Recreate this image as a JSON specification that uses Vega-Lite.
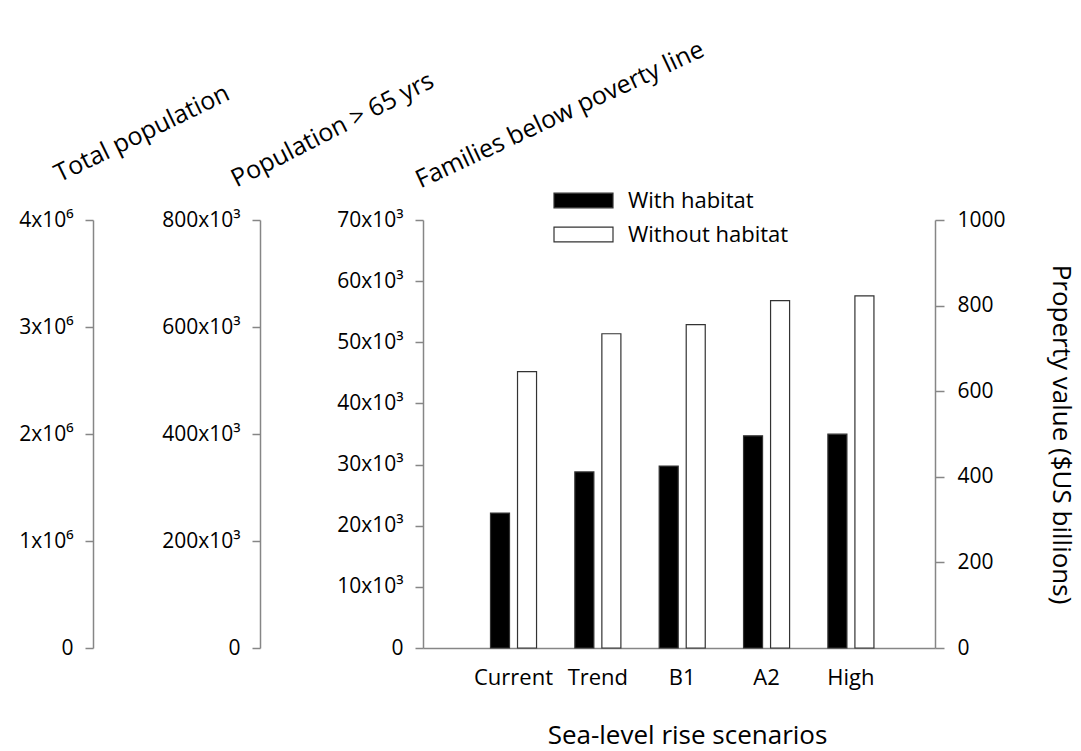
{
  "$schema": "https://vega.github.io/schema/vega-lite/v6.json",
  "autosize": {"type": "none"},
  "width": 512,
  "height": 428,
  "padding": {"left": 423, "top": 220, "right": 146, "bottom": 103},
  "background": "white",
  "config": {
    "view": {"stroke": null},
    "font": "Open Sans",
    "axis": {
      "grid": false,
      "domainColor": "#868686",
      "tickColor": "#868686",
      "domainWidth": 1.5,
      "tickWidth": 1.5,
      "labelColor": "#000000",
      "titleColor": "#000000",
      "labelFont": "Open Sans",
      "titleFont": "Open Sans",
      "labelFontSize": 21,
      "titleFontSize": 25,
      "titleFontWeight": "normal"
    }
  },
  "data": {
    "values": [
      {"scenario": "Current", "habitat": "With habitat", "value": 22060},
      {"scenario": "Current", "habitat": "Without habitat", "value": 45200},
      {"scenario": "Trend", "habitat": "With habitat", "value": 28800},
      {"scenario": "Trend", "habitat": "Without habitat", "value": 51400},
      {"scenario": "B1", "habitat": "With habitat", "value": 29750},
      {"scenario": "B1", "habitat": "Without habitat", "value": 52900},
      {"scenario": "A2", "habitat": "With habitat", "value": 34700},
      {"scenario": "A2", "habitat": "Without habitat", "value": 56800},
      {"scenario": "High", "habitat": "With habitat", "value": 34970},
      {"scenario": "High", "habitat": "Without habitat", "value": 57600}
    ]
  },
  "layer": [
    {
      "mark": {"type": "bar", "stroke": "#333333", "strokeWidth": 1.2},
      "encoding": {
        "x": {
          "field": "scenario",
          "type": "nominal",
          "sort": ["Current", "Trend", "B1", "A2", "High"],
          "scale": {"paddingInner": 0.454, "paddingOuter": 0.762, "align": 0.525},
          "axis": {
            "title": "Sea-level rise scenarios",
            "labelAngle": 0,
            "ticks": false,
            "tickSize": 0,
            "labelPadding": 19,
            "labelFontSize": 22,
            "titleFontSize": 26,
            "titleX": 264,
            "titleY": 95,
            "titleAlign": "center",
            "titleBaseline": "alphabetic"
          }
        },
        "xOffset": {
          "field": "habitat",
          "type": "nominal",
          "scale": {"paddingInner": 0.296, "paddingOuter": 0}
        },
        "y": {
          "field": "value",
          "type": "quantitative",
          "scale": {"domain": [0, 70000], "nice": false},
          "axis": {
            "orient": "left",
            "values": [0, 10000, 20000, 30000, 40000, 50000, 60000, 70000],
            "labelExpr": "datum.value == 0 ? '0' : format(datum.value/1000, 'd') + 'x10³'",
            "tickSize": 8,
            "labelPadding": 12,
            "title": "Families below poverty line",
            "titleAngle": -25,
            "titleX": -3,
            "titleY": -32,
            "titleAlign": "left",
            "titleBaseline": "alphabetic"
          }
        },
        "fill": {
          "field": "habitat",
          "type": "nominal",
          "scale": {"domain": ["With habitat", "Without habitat"], "range": ["#000000", "#ffffff"]},
          "legend": {
            "title": null,
            "orient": "none",
            "legendX": 145,
            "legendY": -35,
            "padding": 0,
            "symbolType": "M-2,-0.5H2V0.5H-2Z",
            "symbolSize": 870,
            "symbolStrokeColor": "#333333",
            "symbolStrokeWidth": 1.2,
            "labelFont": "Open Sans",
            "labelFontSize": 22,
            "labelColor": "#000000",
            "labelOffset": 29,
            "labelLimit": 0,
            "rowPadding": 7
          }
        }
      }
    },
    {
      "mark": {"type": "point", "opacity": 0},
      "encoding": {
        "y": {
          "datum": 0,
          "type": "quantitative",
          "scale": {"domain": [0, 1000], "nice": false},
          "axis": {
            "orient": "right",
            "values": [0, 200, 400, 600, 800, 1000],
            "format": "d",
            "tickSize": 9,
            "labelPadding": 13,
            "title": "Property value ($US billions)",
            "titleFontSize": 26,
            "titleAngle": 90,
            "titleX": 125,
            "titleY": 214,
            "titleAlign": "center",
            "titleBaseline": "middle"
          }
        }
      }
    },
    {
      "mark": {"type": "point", "opacity": 0},
      "encoding": {
        "y": {
          "datum": 0,
          "type": "quantitative",
          "scale": {"domain": [0, 800000], "nice": false},
          "axis": {
            "orient": "left",
            "offset": 163,
            "values": [0, 200000, 400000, 600000, 800000],
            "labelExpr": "datum.value == 0 ? '0' : format(datum.value/1000, 'd') + 'x10³'",
            "tickSize": 8,
            "labelPadding": 12,
            "title": "Population > 65 yrs",
            "titleAngle": -27,
            "titleX": -24,
            "titleY": -33,
            "titleAlign": "left",
            "titleBaseline": "alphabetic"
          }
        }
      }
    },
    {
      "mark": {"type": "point", "opacity": 0},
      "encoding": {
        "y": {
          "datum": 0,
          "type": "quantitative",
          "scale": {"domain": [0, 4000000], "nice": false},
          "axis": {
            "orient": "left",
            "offset": 330,
            "values": [0, 1000000, 2000000, 3000000, 4000000],
            "labelExpr": "datum.value == 0 ? '0' : format(datum.value/1000000, 'd') + 'x10⁶'",
            "tickSize": 8,
            "labelPadding": 12,
            "title": "Total population",
            "titleAngle": -26,
            "titleX": -34,
            "titleY": -38,
            "titleAlign": "left",
            "titleBaseline": "alphabetic"
          }
        }
      }
    }
  ],
  "resolve": {"scale": {"y": "independent"}, "axis": {"y": "independent"}}
}
